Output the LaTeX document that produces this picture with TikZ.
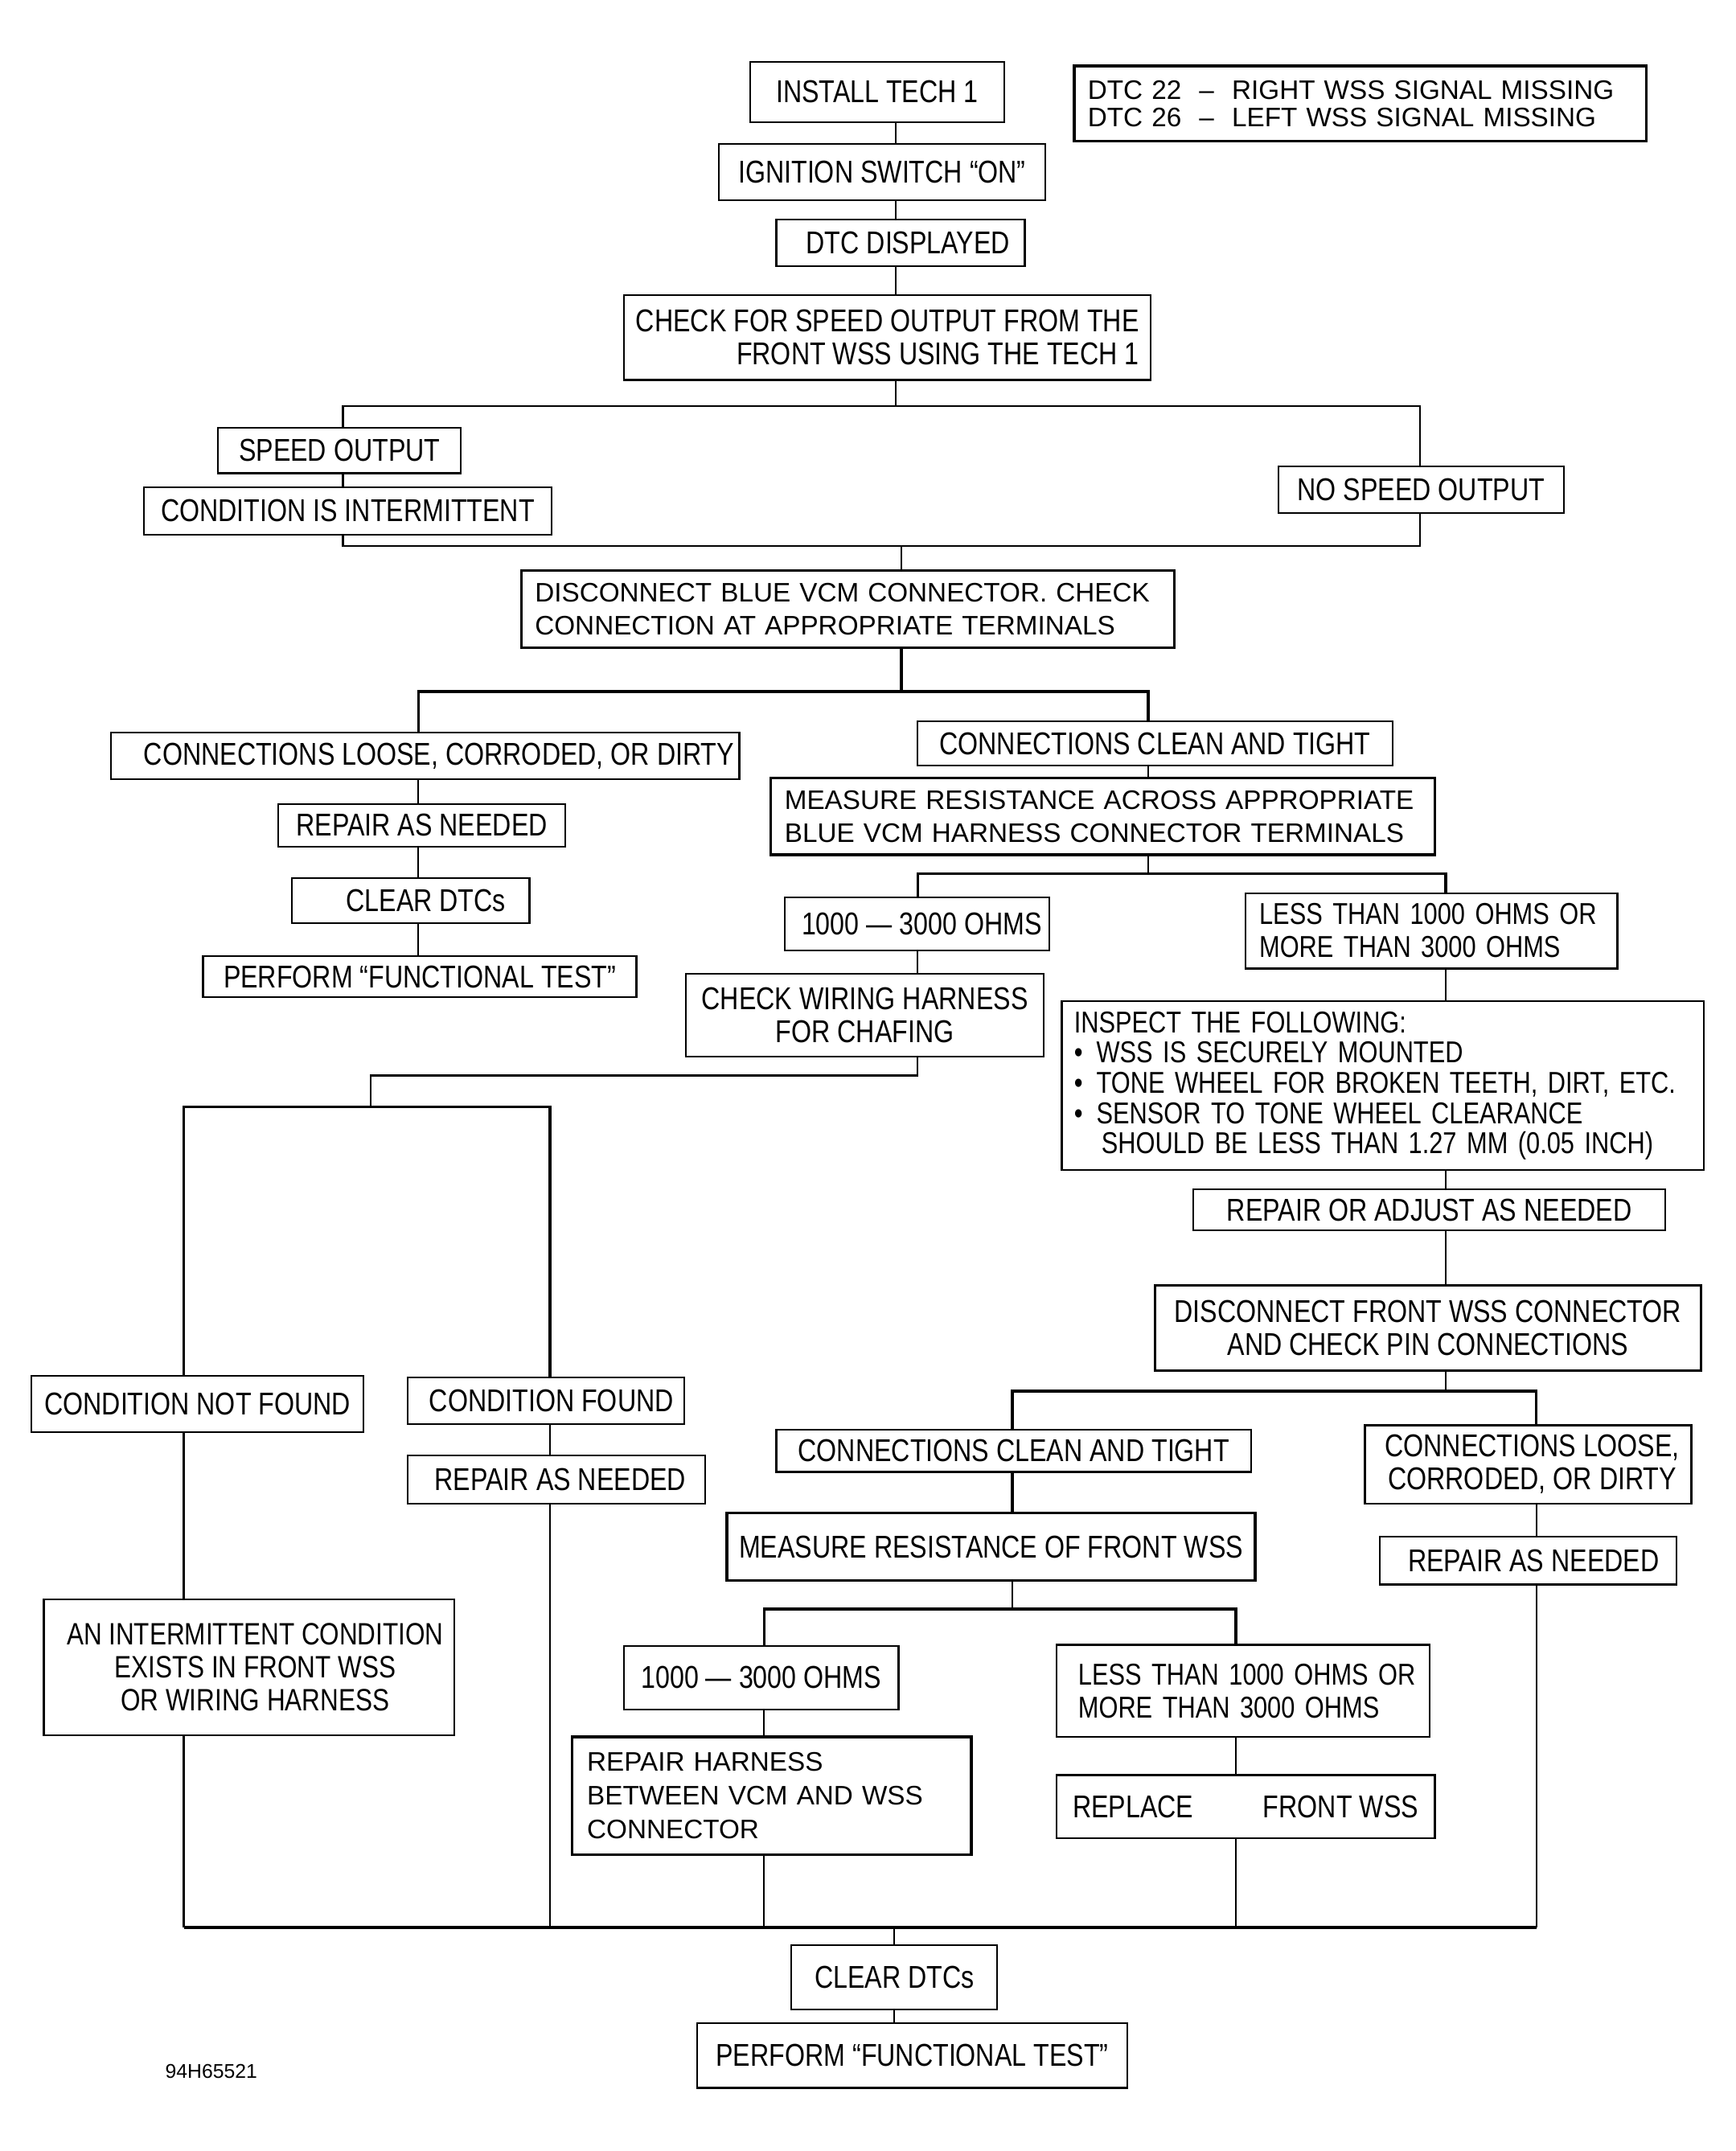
\documentclass[tikz,border=0pt]{standalone}
\usepackage{fontspec}
\setmainfont{Liberation Sans}
\newfontfamily\condfont[FakeStretch=0.82]{Liberation Sans}
\begin{document}
\begin{tikzpicture}[x=1pt,y=-1pt,
  box/.style={draw, line width=1.3pt, inner sep=0pt, font=\condfont\fontsize{23}{24}\selectfont},
  wbox/.style={box, font=\fontsize{19.5}{24}\selectfont},
  heavy/.style={line width=2pt},
  conn/.style={line width=1.3pt, line join=miter},
  tconn/.style={line width=2pt, line join=miter}]
\fill[white] (0,0) rectangle (1265,1568);
\useasboundingbox (0,0) rectangle (1265,1568);

% ---------- top chain ----------
\node[box, minimum width=185pt, minimum height=44pt] (install) at (639.5,67) {INSTALL TECH 1};
\node[wbox, heavy, minimum width=417pt, minimum height=55pt, text width=397pt, align=left, inner xsep=10pt, font=\fontsize{19.5}{20}\selectfont] (dtc) at (991.5,75.5)
  {\mbox{DTC 22~~–~~RIGHT WSS SIGNAL MISSING}\\\mbox{DTC 26~~–~~LEFT WSS SIGNAL MISSING}};
\node[box, minimum width=238pt, minimum height=41pt] (ign) at (643,125.5) {IGNITION SWITCH “ON”};
\node[box, minimum width=181pt, minimum height=34pt] (dtcd) at (656.5,177) {\hspace*{11pt}DTC DISPLAYED};
\node[box, minimum width=384pt, minimum height=62pt, align=right] (check) at (647,246)
  {CHECK FOR SPEED OUTPUT FROM THE\\FRONT WSS USING THE TECH 1};

\node[box, minimum width=177pt, minimum height=33pt] (spd) at (247.5,328.5) {SPEED OUTPUT};
\node[box, minimum width=297pt, minimum height=35pt] (cond) at (253.5,372.5) {CONDITION IS INTERMITTENT};
\node[box, minimum width=208pt, minimum height=34pt] (nospd) at (1036,357) {NO SPEED OUTPUT};

\node[wbox, heavy, minimum width=476pt, minimum height=56pt, text width=456pt, align=left, inner xsep=10pt] (disc) at (618,444)
  {\mbox{DISCONNECT BLUE VCM CONNECTOR. CHECK}\\\mbox{CONNECTION AT APPROPRIATE TERMINALS}};

% ---------- left branch ----------
\node[box, minimum width=458pt, minimum height=34pt] (loose1) at (310,551) {\hspace*{20pt}CONNECTIONS LOOSE, CORRODED, OR DIRTY};
\node[box, minimum width=209pt, minimum height=31pt] (rep1) at (307.5,601.5) {REPAIR AS NEEDED};
\node[box, minimum width=173pt, minimum height=33pt] (clr1) at (299.5,656.5) {\hspace*{22pt}CLEAR DTCs};
\node[box, minimum width=316pt, minimum height=30pt] (perf1) at (306,712) {PERFORM “FUNCTIONAL TEST”};

% ---------- right branch ----------
\node[box, minimum width=346pt, minimum height=32pt] (clean1) at (842,542) {CONNECTIONS CLEAN AND TIGHT};
\node[wbox, heavy, minimum width=484pt, minimum height=56pt, text width=464pt, align=left, inner xsep=10pt] (meas1) at (804,595)
  {\mbox{MEASURE RESISTANCE ACROSS APPROPRIATE}\\\mbox{BLUE VCM HARNESS CONNECTOR TERMINALS}};
\node[box, minimum width=193pt, minimum height=39pt] (ohm1) at (668.5,673.5) {\hspace*{7pt}1000 — 3000 OHMS};
\node[box, minimum width=271pt, minimum height=55pt, text width=251pt, align=left, inner xsep=10pt, font=\condfont\fontsize{22}{24}\selectfont] (less1) at (1043.5,678.5)
  {\mbox{LESS THAN 1000 OHMS OR}\\\mbox{MORE THAN 3000 OHMS}};
\node[box, minimum width=261pt, minimum height=60pt, align=center] (wiring) at (630.5,740)
  {CHECK WIRING HARNESS\\FOR CHAFING};
\node[box, minimum width=468pt, minimum height=123pt, text width=450pt, align=left, inner xsep=9pt, font=\condfont\fontsize{22}{22}\selectfont] (inspect) at (1008,791.5)
  {\mbox{INSPECT THE FOLLOWING:}\\\mbox{•\hspace{10pt}WSS IS SECURELY MOUNTED}\\\mbox{•\hspace{10pt}TONE WHEEL FOR BROKEN TEETH, DIRT, ETC.}\\\mbox{•\hspace{10pt}SENSOR TO TONE WHEEL CLEARANCE}\\\mbox{\hspace*{20pt}SHOULD BE LESS THAN 1.27 MM (0.05 INCH)}};
\node[box, minimum width=344pt, minimum height=30pt] (repadj) at (1042,882) {REPAIR OR ADJUST AS NEEDED};
\node[box, heavy, minimum width=398pt, minimum height=62pt, align=center] (discf) at (1041,968)
  {DISCONNECT FRONT WSS CONNECTOR\\AND CHECK PIN CONNECTIONS};

% ---------- lower left ----------
\node[box, minimum width=242pt, minimum height=41pt] (cnf) at (144,1023.5) {CONDITION NOT FOUND};
\node[box, minimum width=202pt, minimum height=34pt] (cf) at (398,1021) {\hspace*{8pt}CONDITION FOUND};
\node[box, minimum width=217pt, minimum height=35pt] (rep2) at (405.5,1078.5) {\hspace*{6pt}REPAIR AS NEEDED};
\node[box, minimum width=299pt, minimum height=99pt, align=center, font=\condfont\fontsize{22.5}{24}\selectfont] (inter) at (181.5,1215.5)
  {\hspace*{9pt}AN INTERMITTENT CONDITION\\\hspace*{9pt}EXISTS IN FRONT WSS\\\hspace*{9pt}OR WIRING HARNESS};

% ---------- lower right ----------
\node[box, minimum width=346pt, minimum height=31pt] (clean2) at (739,1057.5) {CONNECTIONS CLEAN AND TIGHT};
\node[box, minimum width=238pt, minimum height=57pt, align=center] (loose2) at (1114,1067.5)
  {\hspace*{6pt}CONNECTIONS LOOSE,\\\hspace*{6pt}CORRODED, OR DIRTY};
\node[box, minimum width=216pt, minimum height=35pt] (rep3) at (1114,1137.5) {\hspace*{8pt}REPAIR AS NEEDED};
\node[box, heavy, minimum width=385pt, minimum height=49pt] (meas2) at (722.5,1127.5) {MEASURE RESISTANCE OF FRONT WSS};
\node[box, minimum width=200pt, minimum height=46pt] (ohm2) at (555,1223) {1000 — 3000 OHMS};
\node[box, minimum width=272pt, minimum height=67pt, text width=240pt, align=left, inner xsep=16pt, font=\condfont\fontsize{22}{24}\selectfont] (less2) at (906,1232.5)
  {\mbox{LESS THAN 1000 OHMS OR}\\\mbox{MORE THAN 3000 OHMS}};
\node[wbox, heavy, minimum width=291pt, minimum height=86pt, text width=269pt, align=left, inner xsep=11pt, font=\fontsize{19.5}{24.5}\selectfont] (harn) at (562.5,1309)
  {\mbox{REPAIR HARNESS}\\\mbox{BETWEEN VCM AND WSS}\\\mbox{CONNECTOR}};
\node[box, minimum width=276pt, minimum height=46pt] (repl) at (908,1317) {\makebox[252pt]{REPLACE\hfill FRONT WSS}};

\node[box, minimum width=150pt, minimum height=47pt] (clr2) at (652,1441.5) {CLEAR DTCs};
\node[box, minimum width=314pt, minimum height=47pt] (perf2) at (665,1498.5) {PERFORM “FUNCTIONAL TEST”};

\node[inner sep=0pt, font=\fontsize{14.5}{16}\selectfont] (code) at (154,1510) {94H65521};

% ---------- junction coordinates ----------
\coordinate (s1) at (653,0);
\coordinate (b1l) at (250,296);
\coordinate (b1m) at (653,296);
\coordinate (b1r) at (1035,296);
\coordinate (j1l) at (250,398);
\coordinate (j1m) at (657,398);
\coordinate (j1r) at (1035,398);
\coordinate (b2l) at (305,504);
\coordinate (b2m) at (657,504);
\coordinate (b2r) at (837,504);
\coordinate (b3l) at (669,637);
\coordinate (b3m) at (837,637);
\coordinate (b3r) at (1054,637);
\coordinate (w1) at (669,784);
\coordinate (w2) at (270,784);
\coordinate (w3) at (270,807);
\coordinate (k1) at (134,807);
\coordinate (k2) at (401,807);
\coordinate (b4l) at (738,1014);
\coordinate (b4m) at (1054,1014);
\coordinate (b4r) at (1120,1014);
\coordinate (b5l) at (557,1173);
\coordinate (b5m) at (738,1173);
\coordinate (b5r) at (901,1173);
\coordinate (e1) at (134,1405);
\coordinate (e2) at (401,1405);
\coordinate (e3) at (557,1405);
\coordinate (e4) at (652,1405);
\coordinate (e5) at (901,1405);
\coordinate (e6) at (1120,1405);

% ---------- connectors ----------
\draw[conn] (install.south -| s1) -- (ign.north -| s1);
\draw[conn] (ign.south -| s1) -- (dtcd.north -| s1);
\draw[conn] (dtcd.south -| s1) -- (check.north -| s1);
\draw[conn] (check.south -| b1m) -- (b1m);
\draw[conn] (spd.north -| b1l) -- (b1l) -- (b1r) -- (nospd.north -| b1r);
\draw[conn] (spd.south -| b1l) -- (cond.north -| b1l);
\draw[conn] (cond.south -| j1l) -- (j1l) -- (j1r) -- (nospd.south -| j1r);
\draw[conn] (j1m) -- (disc.north -| j1m);
\draw[tconn] (disc.south -| b2m) -- (b2m);
\draw[tconn] (loose1.north -| b2l) -- (b2l) -- (b2r) -- (clean1.north -| b2r);
\draw[conn] (loose1.south -| b2l) -- (rep1.north -| b2l);
\draw[conn] (rep1.south -| b2l) -- (clr1.north -| b2l);
\draw[conn] (clr1.south -| b2l) -- (perf1.north -| b2l);
\draw[conn] (clean1.south -| b3m) -- (meas1.north -| b3m);
\draw[conn] (meas1.south -| b3m) -- (b3m);
\draw[tconn] (ohm1.north -| b3l) -- (b3l) -- (b3r) -- (less1.north -| b3r);
\draw[conn] (ohm1.south -| b3l) -- (wiring.north -| b3l);
\draw[conn] (wiring.south -| w1) -- (w1) -- (w2) -- (w3);
\draw[tconn] (cnf.north -| k1) -- (k1) -- (k2) -- (cf.north -| k2);
\draw[conn] (less1.south -| b3r) -- (inspect.north -| b3r);
\draw[conn] (inspect.south -| b3r) -- (repadj.north -| b3r);
\draw[conn] (repadj.south -| b3r) -- (discf.north -| b3r);
\draw[conn] (discf.south -| b4m) -- (b4m);
\draw[tconn] (clean2.north -| b4l) -- (b4l) -- (b4r) -- (loose2.north -| b4r);
\draw[tconn] (clean2.south -| b4l) -- (meas2.north -| b4l);
\draw[conn] (meas2.south -| b5m) -- (b5m);
\draw[tconn] (ohm2.north -| b5l) -- (b5l) -- (b5r) -- (less2.north -| b5r);
\draw[conn] (ohm2.south -| b5l) -- (harn.north -| b5l);
\draw[conn] (less2.south -| b5r) -- (repl.north -| b5r);
\draw[conn] (loose2.south -| b4r) -- (rep3.north -| b4r);
\draw[conn] (cnf.south -| k1) -- (inter.north -| k1);
\draw[conn] (cf.south -| k2) -- (rep2.north -| k2);
\draw[conn] (inter.south -| e1) -- (e1);
\draw[conn] (rep2.south -| e2) -- (e2);
\draw[conn] (harn.south -| e3) -- (e3);
\draw[conn] (repl.south -| e5) -- (e5);
\draw[conn] (rep3.south -| e6) -- (e6);
\draw[tconn] (e1) -- (e6);
\draw[conn] (e4) -- (clr2.north -| e4);
\draw[conn] (clr2.south -| e4) -- (perf2.north -| e4);
\end{tikzpicture}
\end{document}
